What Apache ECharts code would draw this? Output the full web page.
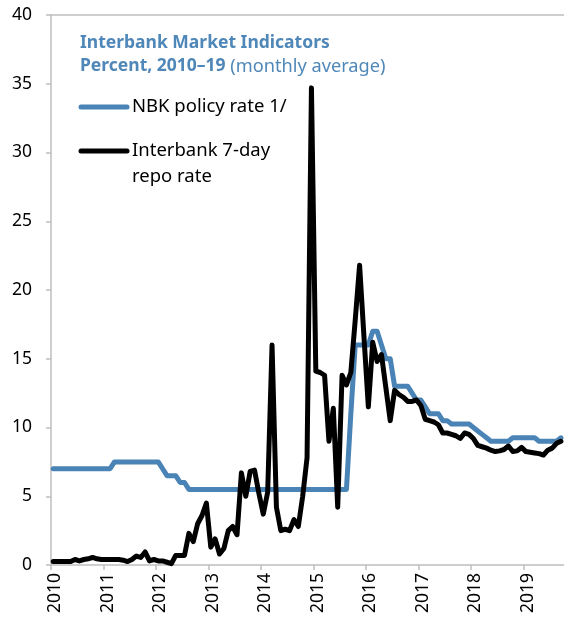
<!DOCTYPE html>
<html><head><meta charset="utf-8">
<script src="https://cdn.jsdelivr.net/npm/echarts@6/dist/echarts.min.js"></script>
<style>html,body{margin:0;padding:0;background:#fff}#c{width:564px;height:625px}</style>
</head><body><div id="c"></div>
<script>
// Monthly data, Jan 2010 .. Sep 2019 (index 0 = Jan 2010)
const startYear = 2010;
const yearLabels = ['2010','2011','2012','2013','2014','2015','2016','2017','2018','2019'];
const yTicks = [0,5,10,15,20,25,30,35,40];

const policyRate = [
  7,7,7,7,7,7,7,7,7,7,7,7,7,7,
  7.5,7.5,7.5,7.5,7.5,7.5,7.5,7.5,7.5,7.5,7.5,
  7.0,6.5,6.5,6.5,6.0,6.0,
  5.5,5.5,5.5,5.5,5.5,5.5,5.5,5.5,5.5,5.5,5.5,5.5,5.5,5.5,5.5,5.5,5.5,5.5,5.5,
  5.5,5.5,5.5,5.5,5.5,5.5,5.5,5.5,5.5,5.5,5.5,5.5,5.5,5.5,5.5,5.5,5.5,5.5,
  11.0,16,16,16,16,17,17,16,15,15,13,13,13,13,12.5,12,12,11.5,11,11,11,
  10.5,10.5,10.25,10.25,10.25,10.25,10.25,10.0,9.75,9.5,9.25,
  9.0,9.0,9.0,9.0,9.0,9.25,9.25,9.25,9.25,9.25,9.25,9.0,9.0,9.0,9.0,9.0,9.25
];
const repoRate = [
  0.25,0.25,0.25,0.25,0.25,0.4,0.3,0.4,0.45,0.55,0.45,0.4,
  0.4,0.4,0.4,0.4,0.35,0.25,0.4,0.65,0.55,0.95,0.3,0.4,
  0.3,0.3,0.2,0.1,0.7,0.7,0.7,2.3,1.7,3.0,3.6,4.5,
  1.3,1.9,0.8,1.2,2.5,2.8,2.2,6.7,5.0,6.8,6.9,5.2,
  3.7,5.3,16.0,4.2,2.5,2.6,2.5,3.3,2.8,5.0,7.8,34.7,
  14.1,14.0,13.8,9.0,11.4,4.2,13.8,13.1,14.0,17.8,21.8,16.6,
  11.5,16.2,14.8,15.3,12.9,10.5,12.7,12.4,12.2,11.9,11.9,12.0,
  11.6,10.6,10.5,10.4,10.2,9.6,9.6,9.5,9.4,9.2,9.6,9.5,
  9.2,8.7,8.6,8.5,8.35,8.25,8.3,8.4,8.65,8.25,8.3,8.55,
  8.25,8.2,8.15,8.1,8.0,8.35,8.5,8.85,9.0
];

const toPairs = arr => arr.map((v, i) => [i + 0.5, v]);
const BLUE = '#4a83b5';
const TITLE_BLUE = '#4f87b8';
const AXIS_GRAY = '#bfbfbf';
const FONT = '"Noto Sans", "Open Sans", sans-serif';
const FS = 17.5;
const LEG_FS = 18.5;
const X_MAX = 117.2;

const chart = echarts.init(document.getElementById('c'), null, {renderer: 'canvas'});
chart.setOption({
  animation: false,
  backgroundColor: '#fff',
  textStyle: {fontFamily: FONT},
  title: {
    left: 80, top: 32, padding: 0,
    text: '{b|Interbank Market Indicators}\n{b|Percent, 2010–19} {n|(monthly average)}',
    textStyle: {
      rich: {
        b: {fontFamily: FONT, fontWeight: 'bold', fontSize: FS, color: TITLE_BLUE, lineHeight: 23},
        n: {fontFamily: FONT, fontWeight: 'normal', fontSize: 18.2, color: TITLE_BLUE, lineHeight: 23}
      }
    }
  },
  grid: {left: 51, right: 0, top: 15, bottom: 60, containLabel: false},
  xAxis: [{
    type: 'value', min: 0, max: X_MAX, interval: 12,
    axisLine: {show: true, lineStyle: {color: AXIS_GRAY, width: 1.5}},
    axisTick: {show: true, length: 5, lineStyle: {color: AXIS_GRAY, width: 1.5}},
    splitLine: {show: false},
    axisLabel: {
      rotate: 90, fontSize: FS, color: '#000', margin: 8, fontFamily: FONT,
      showMaxLabel: false, verticalAlign: 'top', lineHeight: 8,
      formatter: v => (Math.abs(v % 12) < 1e-6 ? yearLabels[Math.round(v / 12)] || '' : '')
    }
  }, {
    type: 'value', min: 0, max: X_MAX, position: 'top',
    axisLine: {show: true, lineStyle: {color: AXIS_GRAY, width: 1.5}},
    axisTick: {show: false}, axisLabel: {show: false}, splitLine: {show: false}
  }],
  yAxis: {
    type: 'value', min: yTicks[0], max: yTicks[yTicks.length - 1], interval: 5,
    axisLine: {show: true, lineStyle: {color: AXIS_GRAY, width: 1.5}},
    axisTick: {show: true, length: 5, lineStyle: {color: AXIS_GRAY, width: 1.5}},
    splitLine: {show: false},
    axisLabel: {fontSize: FS, color: '#000', margin: 19, fontFamily: FONT}
  },
  series: [{
    name: 'NBK policy rate 1/', type: 'line', xAxisIndex: 0,
    data: toPairs(policyRate), showSymbol: false, symbol: 'none',
    lineStyle: {color: BLUE, width: 5, join: 'round', cap: 'round'}
  }, {
    name: 'Interbank 7-day repo rate', type: 'line', xAxisIndex: 0,
    data: toPairs(repoRate), showSymbol: false, symbol: 'none',
    lineStyle: {color: '#000', width: 5, join: 'round', cap: 'round'}
  }],
  graphic: [
    {type: 'line', shape: {x1: 81, y1: 107, x2: 127, y2: 107}, style: {stroke: BLUE, lineWidth: 5, lineCap: 'round'}},
    {type: 'text', x: 132, y: 107, style: {text: 'NBK policy rate 1/', font: LEG_FS + 'px ' + FONT, fill: '#000', verticalAlign: 'middle'}},
    {type: 'line', shape: {x1: 81, y1: 151, x2: 127, y2: 151}, style: {stroke: '#000', lineWidth: 5, lineCap: 'round'}},
    {type: 'text', x: 132, y: 151, style: {text: 'Interbank 7-day', font: LEG_FS + 'px ' + FONT, fill: '#000', verticalAlign: 'middle'}},
    {type: 'text', x: 132, y: 177, style: {text: 'repo rate', font: LEG_FS + 'px ' + FONT, fill: '#000', verticalAlign: 'middle'}}
  ]
});
</script></body></html>
